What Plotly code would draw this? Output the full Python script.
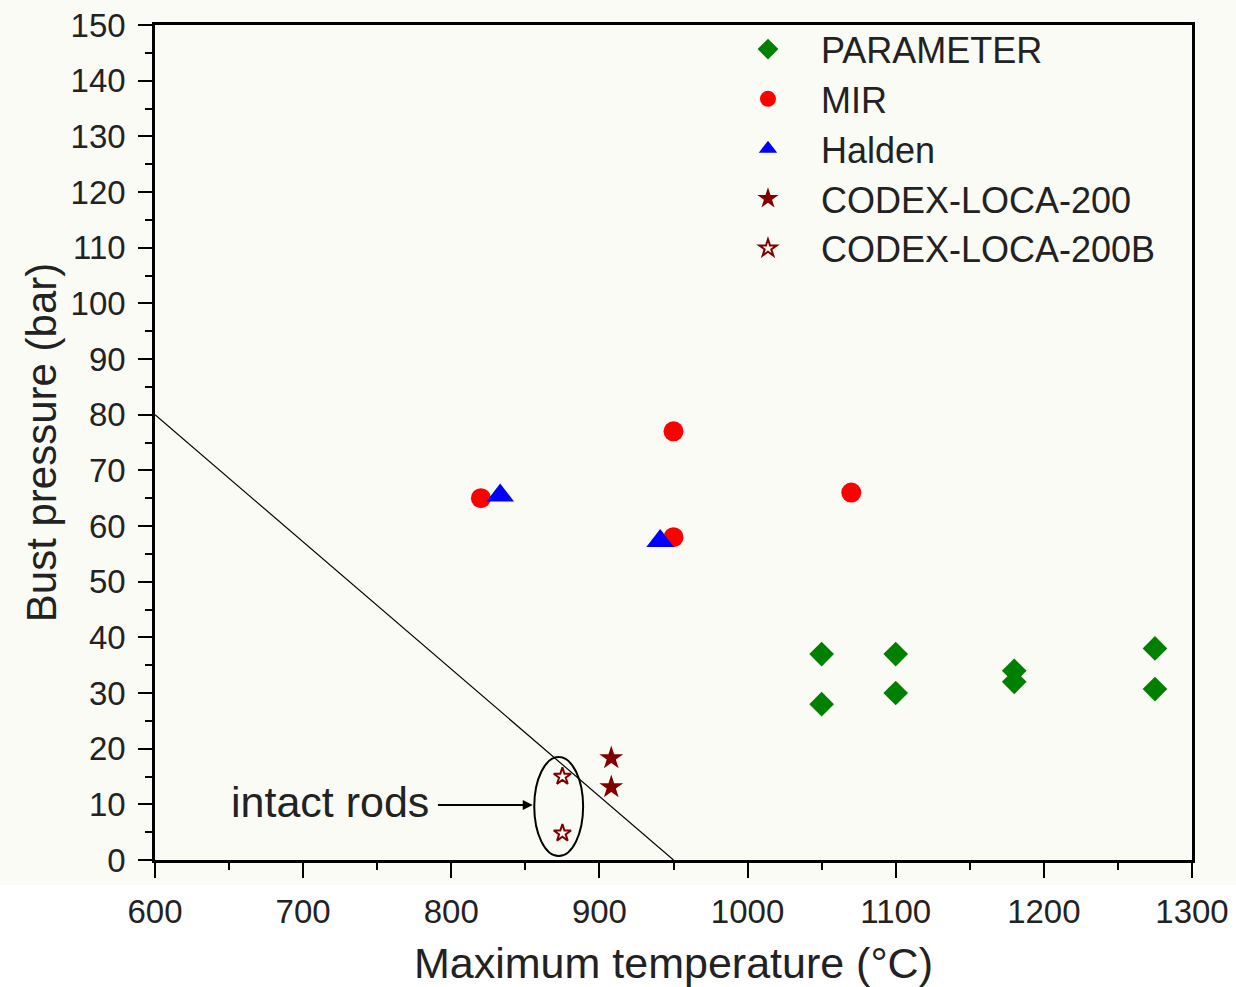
import plotly.graph_objects as go

# ---- data ----
param_x = [1050, 1050, 1100, 1100, 1180, 1180, 1275, 1275]
param_y = [37, 28, 37, 30, 34, 32, 38, 30.7]

mir_x = [820, 950, 950, 1070]
mir_y = [65, 77, 58, 66]

halden_x = [833, 941]
halden_y = [65.5, 57.3]

codex_x = [908, 908]
codex_y = [18.3, 13.1]

codexb_x = [875, 875]
codexb_y = [15, 4.8]

limit_x = [600, 950]
limit_y = [80, 0]

x_ticks = [600, 700, 800, 900, 1000, 1100, 1200, 1300]
y_ticks = list(range(0, 151, 10))

BG = "#FAFBF5"
FONT = "Liberation Sans, Arial, sans-serif"

fig = go.Figure()

fig.add_trace(go.Scatter(x=limit_x, y=limit_y, mode="lines",
                         line=dict(color="black", width=1.2), showlegend=False,
                         hoverinfo="skip"))

fig.add_trace(go.Scatter(x=param_x, y=param_y, mode="markers", name="PARAMETER",
                         marker=dict(symbol="diamond", size=19, color="#008000")))
fig.add_trace(go.Scatter(x=mir_x, y=mir_y, mode="markers", name="MIR",
                         marker=dict(symbol="circle", size=20, color="#FF0000")))
fig.add_trace(go.Scatter(x=halden_x, y=halden_y, mode="markers", name="Halden",
                         marker=dict(symbol="triangle-up", size=24, color="#0000FF")))
fig.add_trace(go.Scatter(x=codex_x, y=codex_y, mode="markers", name="CODEX-LOCA-200",
                         marker=dict(symbol="star", size=18, color="#800000")))
fig.add_trace(go.Scatter(x=codexb_x, y=codexb_y, mode="markers", name="CODEX-LOCA-200B",
                         marker=dict(symbol="star-open", size=13, color="#800000",
                                     line=dict(width=2, color="#800000"))))

# ellipse around intact rods
fig.add_shape(type="circle", xref="x", yref="y", x0=856, x1=889, y0=0.7, y1=18.5,
              line=dict(color="black", width=2))

# white band below the plot (as in reference)
fig.add_shape(type="rect", xref="paper", yref="paper", x0=-0.2, x1=1.1, y0=-0.3, y1=-0.03,
              fillcolor="white", line=dict(width=0), layer="below")

# arrow
fig.add_annotation(x=855, y=9.9, ax=790, ay=9.9, axref="x", ayref="y", xref="x", yref="y",
                   text="", showarrow=True, arrowhead=2, arrowsize=1, arrowwidth=2,
                   arrowcolor="black")
fig.add_annotation(x=786, y=10.5, xref="x", yref="y", text="intact rods", showarrow=False,
                   xanchor="right", yanchor="middle",
                   font=dict(family=FONT, size=43, color="#222"))

axis_common = dict(showline=True, linecolor="black", linewidth=2.5, mirror=True,
                   ticks="outside", tickwidth=2, tickcolor="black",
                   showgrid=False, zeroline=False,
                   tickfont=dict(family=FONT, size=33, color="#222"))

fig.update_xaxes(range=[600, 1300], tickvals=x_ticks, ticklen=15,
                 minor=dict(dtick=50, ticklen=7, tickwidth=2, tickcolor="black", ticks="outside"),
                 title=dict(text="Maximum temperature (°C)", standoff=26,
                            font=dict(family=FONT, size=43, color="#222")),
                 ticklabelstandoff=6,
                 **axis_common)
fig.update_yaxes(range=[0, 150], tickvals=y_ticks, ticklen=14,
                 minor=dict(dtick=5, ticklen=7, tickwidth=2, tickcolor="black", ticks="outside"),
                 title=dict(text="Bust pressure (bar)", standoff=1,
                            font=dict(family=FONT, size=42, color="#222")),
                 ticklabelstandoff=6,
                 **axis_common)

fig.update_layout(
    width=1236, height=987,
    margin=dict(l=155, r=44, t=25, b=127, autoexpand=False),
    paper_bgcolor=BG, plot_bgcolor=BG,
    font=dict(family=FONT, color="#222"),
    legend=dict(x=0.54, y=1.007, xanchor="left", yanchor="top",
                bgcolor="rgba(0,0,0,0)", borderwidth=0,
                font=dict(family=FONT, size=36, color="#222"),
                itemwidth=96, tracegroupgap=0),
    showlegend=True,
)

fig.write_html("out.html")
